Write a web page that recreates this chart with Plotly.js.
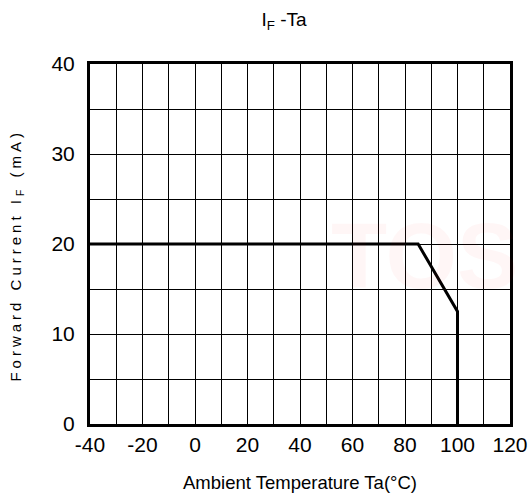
<!DOCTYPE html>
<html>
<head>
<meta charset="utf-8">
<script src="https://cdn.plot.ly/plotly-3.0.1.min.js"></script>
<style>
html,body{margin:0;padding:0;background:#fff;}
#chart{width:531px;height:499px;}
#chart .annotation[data-index="0"] text{letter-spacing:4px;}
</style>
</head>
<body>
<div id="chart"></div>
<script>
// Derating curve: ambient temperature (°C) vs max forward current (mA)
const temperature = [-40, 85, 100, 100];
const forwardCurrent = [20, 20, 12.5, 0];
const xTickValues = [-40, -20, 0, 20, 40, 60, 80, 100, 120];
const yTickValues = [0, 10, 20, 30, 40];

const trace = {
  x: temperature,
  y: forwardCurrent,
  type: 'scatter',
  mode: 'lines',
  line: {color: '#000', width: 3},
  hoverinfo: 'skip',
  showlegend: false
};

const layout = {
  width: 531,
  height: 499,
  margin: {l: 90, r: 21, t: 64, b: 75},
  paper_bgcolor: '#fff',
  plot_bgcolor: '#fff',
  font: {family: 'Liberation Sans, Arial, sans-serif', color: '#000'},
  title: {
    text: 'I<sub>F</sub> -Ta',
    font: {size: 19, color: '#000'},
    x: 0.462, xref: 'paper', xanchor: 'center',
    y: 0.962, yref: 'container', yanchor: 'middle'
  },
  xaxis: {
    range: [-40, 120],
    tickvals: xTickValues,
    ticktext: xTickValues.map(String),
    tickfont: {size: 21},
    ticks: '',
    ticklabelstandoff: 0,
    showgrid: true,
    gridcolor: '#000',
    gridwidth: 1,
    minor: {dtick: 10, tick0: -40, showgrid: true, gridcolor: '#000', gridwidth: 1},
    showline: true, linecolor: '#000', linewidth: 3, mirror: true,
    zeroline: false,
    fixedrange: true,
    title: {text: 'Ambient Temperature Ta(°C)', font: {size: 18.5}, standoff: 21}
  },
  yaxis: {
    range: [0, 40],
    tickvals: yTickValues,
    ticktext: yTickValues.map(String),
    tickfont: {size: 21},
    ticks: '',
    ticklabelstandoff: 8,
    showgrid: true,
    gridcolor: '#000',
    gridwidth: 1,
    minor: {dtick: 5, tick0: 0, showgrid: true, gridcolor: '#000', gridwidth: 1},
    showline: true, linecolor: '#000', linewidth: 3, mirror: true,
    zeroline: false,
    fixedrange: true
  },
  annotations: [{
    text: 'Forward Current I<sub>F</sub> (mA)',
    xref: 'paper', yref: 'paper',
    x: -0.176, y: 0.468,
    xanchor: 'center', yanchor: 'middle',
    textangle: -90,
    showarrow: false,
    font: {size: 15, color: '#000'}
  }, {
    text: '<b>TOS</b>',
    xref: 'paper', yref: 'paper',
    x: 0.57, y: 0.467,
    xanchor: 'left', yanchor: 'middle',
    showarrow: false,
    font: {size: 92, color: 'rgba(255,0,0,0.035)'}
  }]
};

Plotly.newPlot('chart', [trace], layout, {displayModeBar: false, staticPlot: true});
</script>
</body>
</html>
